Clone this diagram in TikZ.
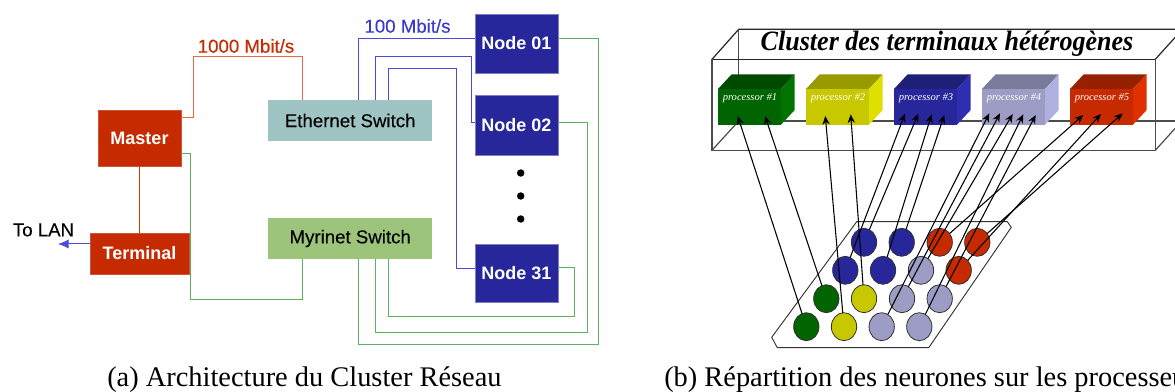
\documentclass[tikz,border=0pt]{standalone}
\usepackage{fontspec}
\setmainfont{Liberation Serif}
\setsansfont{Liberation Sans}
\newfontfamily\midsans[FakeBold=0.12]{Liberation Sans}
\usetikzlibrary{arrows.meta,calc,shapes.geometric}
\definecolor{cred}{HTML}{C62A00}
\definecolor{cblue}{HTML}{27279B}
\definecolor{cteal}{HTML}{9EC4C4}
\definecolor{cmyr}{HTML}{9CC47A}
\definecolor{wred}{HTML}{E66A45}
\definecolor{wblue}{HTML}{4A4ADC}
\definecolor{tblue}{HTML}{3A3AD0}
\definecolor{wgreen}{HTML}{5DB05D}
\definecolor{cgreen}{HTML}{006400}
\definecolor{cyel}{HTML}{C8C800}
\definecolor{clav}{HTML}{9C9CC4}
\tikzset{
  x=0.75pt,y=-0.75pt,
  box/.style={inner sep=0pt,outer sep=0pt,font=\sffamily\bfseries\fontsize{13.5}{15}\selectfont,text=white},
  switchbox/.style={inner sep=0pt,outer sep=0pt,minimum width=122.6pt,minimum height=30.75pt,font=\midsans\fontsize{14}{15}\selectfont},
  nodebox/.style={box,fill=cblue,draw=cblue!60!white,line width=0.5pt,minimum width=62.25pt},
  hostbox/.style={box,fill=cred,draw=cred!80!white,line width=0.5pt},
  wire/.style={line width=0.75pt,line join=miter},
  wired/.style={wire,draw=wred},
  wblu/.style={wire,draw=wblue},
  wgre/.style={wire,draw=wgreen},
  speed/.style={font=\midsans\fontsize{14}{15}\selectfont,inner sep=0pt},
  captext/.style={font=\fontsize{21.3}{23}\selectfont,inner sep=0pt,anchor=base west},
  frameline/.style={line width=0.9pt,draw=black!85},
  backline/.style={line width=0.9pt,draw=black!70},
  proc/.style={inner sep=0pt,outer sep=0pt,minimum width=47.25pt,minimum height=26.75pt},
  proctext/.style={font=\itshape\fontsize{7.9}{9}\selectfont,text=white,inner sep=0pt,anchor=base west},
  neuron/.style={ellipse,inner sep=0pt,outer sep=0pt,minimum width=19pt,minimum height=21pt,draw=black!80,line width=0.6pt},
  link/.style={-{Stealth[length=6.5pt,width=5.5pt]},line width=0.8pt,draw=black},
  plate/.style={line width=0.7pt,draw=black!80},
  dotmark/.style={circle,fill=black,inner sep=0pt,minimum size=5.6pt},
}
\begin{document}
\begin{tikzpicture}
\clip (0,0) rectangle (1175,392);
\useasboundingbox (0,0) rectangle (1175,392);
\fill[white] (0,0) rectangle (1175,392);

% ---- left panel nodes
\node[hostbox,minimum width=62.25pt,minimum height=42pt] (master) at (139.5,138) {Master};
\node[hostbox,minimum width=74.25pt,minimum height=30.75pt] (terminal) at (139.5,253.5) {Terminal};
\node[switchbox,fill=cteal] (eth) at (350.2,120.5) {Ethernet Switch};
\node[switchbox,fill=cmyr] (myr) at (350.2,238.5) {Myrinet Switch};
\node[nodebox,minimum height=44.25pt] (n1) at (516.5,43.5) {Node 01};
\node[nodebox,minimum height=45pt] (n2) at (516.5,125) {Node 02};
\node[nodebox,minimum height=43.5pt] (n31) at (516.5,273) {Node 31};
\node[dotmark] (d1) at (520.7,173) {};
\node[dotmark] (d2) at (520.7,196) {};
\node[dotmark] (d3) at (520.7,219) {};
\node[font=\midsans\fontsize{14}{15}\selectfont,inner sep=0pt] (lan) at (43.5,230) {To LAN};
\coordinate (lanend) at (58,244);
\node[speed,text=cred] (s1000) at (246,46) {1000 Mbit/s};
\node[speed,text=tblue] (s100) at (407.5,26) {100 Mbit/s};

% ---- left panel connectors
\draw[wired] (master.east |- 0,118) -| (193,57) -| (302,0 |- eth.north);
\draw[wgre] (master.east |- 0,154) -| (190,299) -| (302,0 |- myr.south);
\draw[wire,draw=cred!80!orange] (master.south) -- (terminal.north);
\draw[wblu,-{Latex[length=8pt,width=7pt]}] (terminal.west |- lanend) -- (lanend);
\draw[wblu] (358.7,0 |- eth.north) |- (n1.west |- 0,38.5);
\draw[wblu] (375,0 |- eth.north) |- (471.5,56.5) |- (n2.west |- 0,123);
\draw[wblu] (388.5,0 |- eth.north) |- (456,69) |- (n31.west |- 0,268);
\draw[wgre] (n1.east |- 0,39) -| (598.5,344) -| (358.7,0 |- myr.south);
\draw[wgre] (n2.east |- 0,123) -| (587.5,332) -| (375,0 |- myr.south);
\draw[wgre] (n31.east |- 0,267.5) -| (574.5,316.5) -| (388.5,0 |- myr.south);

% ---- captions
\node[captext] (capa) at (107,386) {(a) Architecture du Cluster Réseau};
\node[captext] (capb) at (664,386) {(b) Répartition des neurones sur les processeurs};

% ---- cluster box: back
\draw[frameline] (712,59.3) -- (738.7,29.3) -- (1175,29.3);
\draw[backline] (738.7,29.3) -- (738.7,121) -- (1175,121);
\draw[backline] (712,150.3) -- (738.7,121);
\draw[frameline] (1155.3,59.3) -- (1175,37.5);
\draw[backline] (1155.3,150.3) -- (1175,128.5);

% ---- processors
\foreach \n/\x/\fr/\tp/\sd in {1/718/cgreen/004A00/007300,2/806/cyel/999900/E0E000,3/894/cblue/1F1F7A/2E2EB0,4/982/clav/7A7A9A/B0B0E0,5/1070/cred/962000/E03000}{
  \definecolor{ptop}{HTML}{\tp}
  \definecolor{pside}{HTML}{\sd}
  \node[proc,fill=\fr,anchor=north west] (p\n) at (\x,89) {};
  \fill[ptop] (p\n.north west) -- ++(13.5,-14.5) -- ++(63,0) -- (p\n.north east) -- cycle;
  \fill[pside] (p\n.north east) -- ++(13.5,-14.5) -- ++(0,35.7) -- (p\n.south east) -- cycle;
  \node[proctext] (pt\n) at (\x+4.5,101) {processor \#\n};
}

% ---- cluster box: front
\draw[frameline] (712,59.3) -- (1155.3,59.3);
\draw[backline] (712,59.3) -- (712,150.3) -- (1155.3,150.3) -- (1155.3,59.3);
\node[inner sep=0pt,xscale=0.93,font=\bfseries\itshape\fontsize{21}{22}\selectfont] (title) at (947,44) {Cluster des terminaux hétérogènes};

% ---- plate and neurons
\draw[plate] (856.7,221.7) -- (1007.3,221.7) -- (1011.3,227.3) -- (928.7,347.7) -- (777.3,347.7) -- (771.7,337.3) -- cycle;
\foreach \nm/\x/\y/\col in {a/864/242.3/cblue,b/901.7/242.3/cblue,c/939.7/242.3/cred,d/977.3/242.3/cred,e/845.3/270.3/cblue,f/883/270.3/cblue,g/921/270.3/clav,h/958.7/270.3/cred,i/826.3/298.7/cgreen,j/864/298.7/cyel,k/902/298.7/clav,l/939.7/298.7/clav,m/806.3/326.7/cgreen,n/844/326.7/cyel,o/881.7/326.7/clav,q/919.3/326.7/clav}{
  \node[neuron,fill=\col] (\nm) at (\x,\y) {};
}

% ---- tips on processors
\foreach \tn/\x/\y in {t1/737.7/116,t2/765/116,t3/825.3/116,t4/850.7/114.3,t5/905/113.7,t6/918.3/113.7,t7/931.7/114.3,t8/944.3/115,t9/989.3/113.3,t10/1000/113.3,t11/1012.7/114,t12/1023.3/114.3,t13/1035.7/115,t14/1083.3/115,t15/1101/114,t16/1122.7/113.3}{
  \coordinate (\tn) at (\x,\y);
}
\foreach \src/\tn in {m/t1,i/t2,n/t3,j/t4,e/t5,a/t6,f/t7,b/t8,o/t9,k/t10,g/t11,q/t12,l/t13,c/t14,h/t15,d/t16}{
  \draw[link] (\src) -- (\tn);
}
\end{tikzpicture}
\end{document}
